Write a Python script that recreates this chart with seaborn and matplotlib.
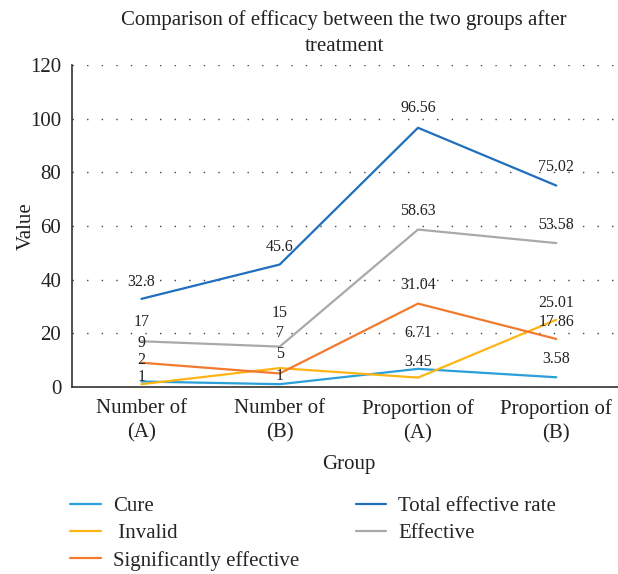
import numpy as np
import pandas as pd
import matplotlib.pyplot as plt
import seaborn as sns

groups = ['Number of\n(A)', 'Number of\n(B)', 'Proportion of\n(A)', 'Proportion of\n(B)']
cure = [2, 1, 6.71, 3.58]
invalid = [1, 7, 3.45, 25.01]
sig_effective = [9, 5, 31.04, 17.86]
total_rate = [32.8, 45.6, 96.56, 75.02]
effective = [17, 15, 58.63, 53.58]

series = {
    'Cure': cure,
    'Invalid': invalid,
    'Significantly effective': sig_effective,
    'Total effective rate': total_rate,
    'Effective': effective,
}
colors = {
    'Cure': '#2a9fd8',
    'Invalid': '#fdb515',
    'Significantly effective': '#f27a2e',
    'Total effective rate': '#1f6fbd',
    'Effective': '#a9a9ab',
}
# 标签在点上方的像素偏移（避免重叠）
label_lift = {
    'Cure': [22, 8, 36, 18],
    'Invalid': [7, 35, 16, 17],
    'Significantly effective': [20, 19, 19, 17],
    'Total effective rate': [17, 18, 20, 19],
    'Effective': [19, 34, 19, 18],
}

rows = []
for name, vals in series.items():
    for i, v in enumerate(vals):
        rows.append({'Group': i, 'Value': v, 'Series': name})
df = pd.DataFrame(rows)

sns.set_style('white')
plt.rcParams['font.family'] = ['Liberation Serif', 'DejaVu Serif']
txt = '#222222'

fig = plt.figure(figsize=(6.18, 5.74), dpi=100)
ax = fig.add_axes([0.117, 0.326, 0.895, 0.561])

sns.lineplot(data=df, x='Group', y='Value', hue='Series', palette=colors,
             linewidth=1.6, ax=ax, legend=True)

# 数值标签
for name, vals in series.items():
    for i, v in enumerate(vals):
        ax.annotate(f'{v:g}', (i, v), xytext=(0, label_lift[name][i]),
                    textcoords='offset pixels', ha='center', va='center',
                    fontsize=11.5, color=txt)

ax.set_xlim(-0.5, 3.5)
ax.set_ylim(0, 120)
ax.set_yticks(range(0, 121, 20))
ax.set_xticks(range(len(groups)))
ax.set_xticklabels(groups, fontsize=15, color=txt, linespacing=1.35)
ax.tick_params(axis='y', labelsize=15, colors=txt, length=0, pad=8)
ax.tick_params(axis='x', length=0, pad=9)
ax.yaxis.grid(True, linestyle=(0, (1, 9.5)), color='#444444', linewidth=1.0)
ax.set_axisbelow(True)
for s in ['top', 'right']:
    ax.spines[s].set_visible(False)
for s in ['left', 'bottom']:
    ax.spines[s].set_color('#333333')
    ax.spines[s].set_linewidth(1.2)

ax.set_xlabel('Group', fontsize=15, color=txt, labelpad=8)
ax.set_ylabel('Value', fontsize=15, color=txt, labelpad=-4)
fig.text(0.557, 1 - 33.5 / 574, 'Comparison of efficacy between the two groups after\ntreatment',
         ha='center', va='center', fontsize=15, color=txt, linespacing=1.5)

handles, labels = ax.get_legend_handles_labels()
ax.get_legend().remove()
labels = [' Invalid' if l == 'Invalid' else l for l in labels]
fig.legend(handles, labels, loc='upper left', bbox_to_anchor=(0.114, 0.135), ncol=2,
           frameon=False, fontsize=15, handlelength=1.45, handletextpad=0.6,
           columnspacing=2.7, labelspacing=0.36, borderpad=0, borderaxespad=0)

fig.savefig('out.png', dpi=100)
